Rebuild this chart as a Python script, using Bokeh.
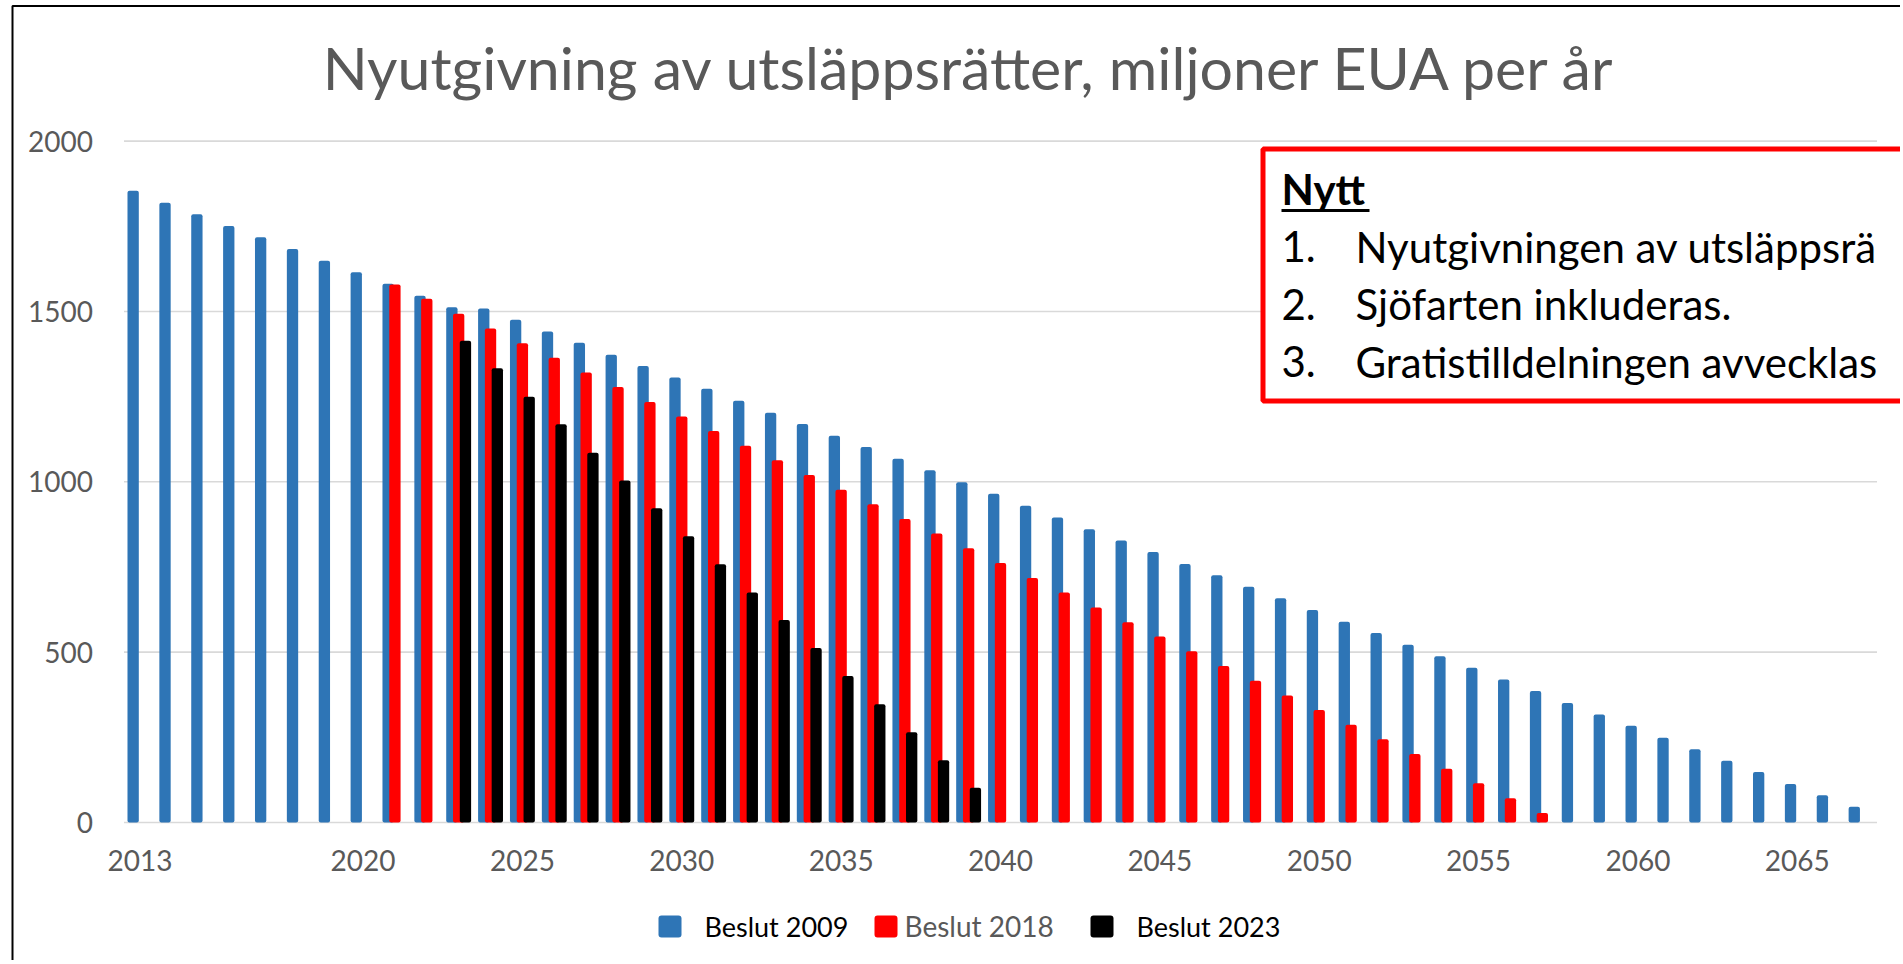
from bokeh.plotting import figure
from bokeh.models import (ColumnDataSource, Range1d, FixedTicker, Label,
                          BoxAnnotation)
from bokeh.transform import dodge
from bokeh.embed import file_html
from bokeh.resources import INLINE

# ---------------- data ----------------
title_text = "Nyutgivning av utsläppsrätter, miljoner EUA per år"
series_names = ["Beslut 2009", "Beslut 2018", "Beslut 2023"]
series_colors = ["#2E75B6", "#FF0000", "#000000"]

years_2009 = list(range(2013, 2068))
beslut_2009 = [1854, 1819, 1785, 1751, 1718, 1683, 1649, 1615, 1581, 1546,
               1512, 1509, 1476, 1441, 1408, 1373, 1340, 1306, 1273, 1238,
               1203, 1170, 1135, 1102, 1068, 1034, 999, 965, 930, 895,
               861, 828, 794, 759, 726, 692, 658, 624, 589, 556,
               522, 488, 454, 420, 386, 351, 317, 284, 249, 215,
               181, 148, 113, 80, 46]

years_2018 = list(range(2021, 2058))
beslut_2018 = [1579, 1537, 1493, 1450, 1407, 1364, 1321, 1278, 1234, 1192,
               1149, 1106, 1063, 1020, 977, 934, 891, 848, 805, 762,
               718, 675, 631, 588, 546, 503, 459, 416, 373, 330,
               287, 244, 201, 158, 115, 71, 28]

years_2023 = list(range(2023, 2040))
beslut_2023 = [1414, 1333, 1250, 1169, 1085, 1004, 922, 840, 758, 675,
               594, 512, 430, 347, 265, 183, 102]

x_tick_years = [2013, 2020, 2025, 2030, 2035, 2040, 2045, 2050, 2055, 2060, 2065]
y_ticks = [0, 500, 1000, 1500, 2000]

note_heading = "Nytt"
note_numbers = ["1.", "2.", "3."]
note_lines = ["Nyutgivningen av utsläppsrä",
              "Sjöfarten inkluderas.",
              "Gratistilldelningen avvecklas"]

# ---------------- layout (reference pixel geometry) ----------------
W, H = 1900, 960
X0, X1 = 2012.5, 2067.5          # category band edges of the plot area
PL, PR = 123.5, 1876.5           # pixel x of X0, X1
PY0, PYT = 822.0, 140.6          # pixel y of value 0 and value 2000
YT = 2000


def X(px):
    return X0 + (px - PL) / (PR - PL) * (X1 - X0)


def Y(py):
    return (PY0 - py) / (PY0 - PYT) * YT


p = figure(width=W, height=H, output_backend="svg", toolbar_location=None,
           x_range=Range1d(X(0), X(W)), y_range=Range1d(Y(H), Y(0)),
           min_border=0)
p.min_border_left = p.min_border_right = p.min_border_top = p.min_border_bottom = 0
p.outline_line_color = None
p.background_fill_color = "white"
p.border_fill_color = "white"
p.xgrid.visible = False
p.ygrid.visible = False

# axes (fixed inside the canvas-wide frame)
for ax in (p.xaxis[0], p.yaxis[0]):
    ax.axis_line_color = None
    ax.major_tick_line_color = None
    ax.minor_tick_line_color = None
    ax.major_tick_out = 0
    ax.major_tick_in = 0
    ax.major_label_text_font = "Lato"
    ax.major_label_text_font_size = "28px"
    ax.major_label_text_color = "#595959"
p.xaxis[0].ticker = FixedTicker(ticks=x_tick_years)
p.yaxis[0].ticker = FixedTicker(ticks=y_ticks)
p.xaxis[0].fixed_location = 0
p.yaxis[0].fixed_location = X0
p.xaxis[0].major_label_standoff = 27
p.yaxis[0].major_label_standoff = 31

# horizontal gridlines at the y ticks, across the plot area
p.segment(x0=X0, x1=X1, y0=y_ticks, y1=y_ticks, line_color="#D9D9D9",
          line_width=1.6)

# bars
bw = 0.355
off = 0.213
for yrs, vals, col, dx in ((years_2009, beslut_2009, series_colors[0], -off),
                           (years_2018, beslut_2018, series_colors[1], 0.0),
                           (years_2023, beslut_2023, series_colors[2], off)):
    src = ColumnDataSource(dict(year=yrs, value=vals))
    p.vbar(x=dodge("year", dx, range=p.x_range), top="value", bottom=0,
           width=bw, source=src, fill_color=col, line_color=None,
           border_radius=2)

# outer frame border (left and top edge visible)
p.add_layout(BoxAnnotation(left=X(12), right=X(W + 50), top=Y(5.5), bottom=Y(H + 50),
                           fill_color=None, fill_alpha=0, line_color="#000000",
                           line_alpha=1.0, line_width=2))

# title
p.add_layout(Label(x=X(970), y=Y(66.5), text=title_text, text_align="center",
                   text_baseline="middle", text_font="Lato",
                   text_font_size="59px", text_color="#595959"))

# note box
p.add_layout(BoxAnnotation(left=X(1262.5), right=X(W + 50), top=Y(148.5),
                           bottom=Y(400.5), fill_color="white", fill_alpha=1.0,
                           line_color="#FF0000", line_alpha=1.0, line_width=5))
p.add_layout(Label(x=X(1281), y=Y(188), text=note_heading, text_align="left",
                   text_baseline="middle", text_font="Lato",
                   text_font_style="bold", text_font_size="42px",
                   text_color="#000000"))
p.add_layout(BoxAnnotation(left=X(1281), right=X(1369), top=Y(208.5),
                           bottom=Y(211.5), fill_color="#000000", fill_alpha=1.0,
                           line_color=None))
for i, (num, line) in enumerate(zip(note_numbers, note_lines)):
    mid = 246 + i * 57.5
    p.add_layout(Label(x=X(1281), y=Y(mid), text=num, text_align="left",
                       text_baseline="middle", text_font="Lato",
                       text_font_size="42px", text_color="#000000"))
    p.add_layout(Label(x=X(1355), y=Y(mid), text=line, text_align="left",
                       text_baseline="middle", text_font="Lato",
                       text_font_size="42px", text_color="#000000"))

# legend (manual)
leg_marker_x = [658, 874, 1090]
leg_text_x = [704, 904, 1136]
leg_text_col = ["#000000", "#595959", "#000000"]
leg_text_size = ["27px", "28px", "27px"]
for name, col, mx, tx, tc, ts in zip(series_names, series_colors, leg_marker_x,
                                     leg_text_x, leg_text_col, leg_text_size):
    p.add_layout(BoxAnnotation(left=X(mx), right=X(mx + 23), top=Y(915),
                               bottom=Y(937), fill_color=col, fill_alpha=1.0,
                               line_color=None, border_radius=3))
    p.add_layout(Label(x=X(tx), y=Y(925.5), text=name, text_align="left",
                       text_baseline="middle", text_font="Lato",
                       text_font_size=ts, text_color=tc))

open("out.html", "w").write(file_html(p, INLINE))
